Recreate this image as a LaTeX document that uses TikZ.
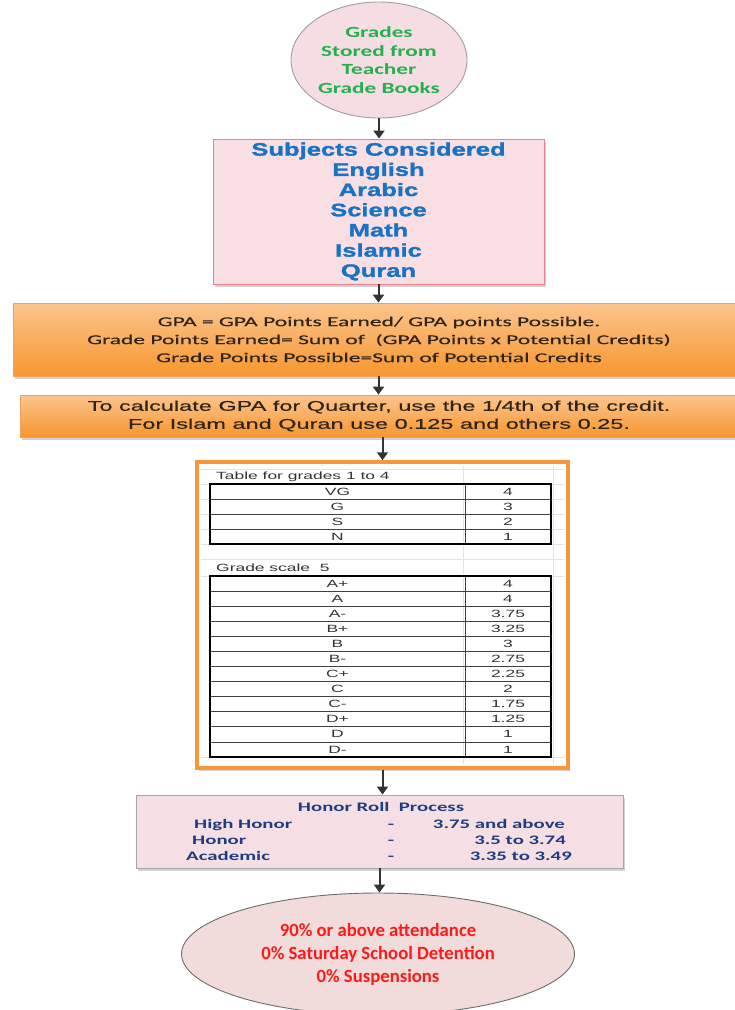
\documentclass[tikz,border=0pt]{standalone}
\usepackage{fontspec}
\usetikzlibrary{shapes.geometric,shadows,arrows.meta}
\newfontfamily\topfont[FakeStretch=1.5]{Carlito}
\newfontfamily\subjfont[FakeStretch=1.42,FakeBold=1.6]{Liberation Sans}
\newfontfamily\gpafont[FakeStretch=1.74,FakeBold=0.4]{Carlito}
\newfontfamily\quarterfont[FakeStretch=1.68,FakeBold=0.4]{Liberation Sans}
\newfontfamily\tabfont[FakeStretch=1.66]{Liberation Sans}
\newfontfamily\honorfont[FakeStretch=1.6]{Carlito}
\newfontfamily\botfont{Carlito}
\definecolor{greenT}{HTML}{22B14C}
\definecolor{blueT}{HTML}{1A73C2}
\definecolor{navyT}{HTML}{203C80}
\definecolor{redT}{HTML}{FF1A1A}
\definecolor{gpaT}{HTML}{2E2418}
\definecolor{pinkA}{HTML}{F6DCE3}
\definecolor{pinkB}{HTML}{F9DEE4}
\definecolor{pinkC}{HTML}{F5DFE4}
\definecolor{pinkD}{HTML}{F2DCDB}
\definecolor{boxred}{HTML}{E6808C}
\definecolor{orTop}{HTML}{FCC58E}
\definecolor{orBot}{HTML}{F7962F}
\definecolor{orLine}{HTML}{F2A055}
\definecolor{orFrame}{HTML}{F7963A}
\definecolor{arrowc}{HTML}{333333}
\definecolor{gridc}{HTML}{E2E2E2}
\definecolor{tabT}{HTML}{333333}
\begin{document}
\begin{tikzpicture}[x=1pt,y=-1pt,
  conn/.style={draw=arrowc, line width=2pt, -{Triangle[width=11pt,length=8pt]}},
  shad/.style={drop shadow={shadow xshift=2pt, shadow yshift=-2.5pt, opacity=0.35}},
  orbox/.style={rectangle, draw=orLine, line width=0.8pt, top color=orTop, bottom color=orBot, shad, align=center, inner sep=0pt},
  tabtxt/.style={font=\fontsize{10.5}{12}\selectfont\tabfont, text=tabT, inner sep=0pt},
  hontxt/.style={font=\fontsize{13}{15}\selectfont\honorfont\bfseries, text=navyT, inner sep=0pt, text height=9pt, text depth=2.5pt},
  rowline/.style={draw=black!75, line width=0.7pt},
  frameline/.style={draw=black, line width=1.3pt}
]
\useasboundingbox (0,0) rectangle (735,1010);
\fill[white] (0,0) rectangle (735,1010);
\begin{scope}
\clip (0,0) rectangle (735,1010);

% top ellipse
\node[ellipse, draw=gray!75, line width=0.9pt, fill=pinkA, minimum width=176pt, minimum height=116pt, inner sep=0pt,
  align=center, text=greenT, font=\fontsize{15.5}{18.5}\selectfont\topfont\bfseries] (grades) at (379,60)
  {Grades\\Stored from\\Teacher\\Grade Books};

% subjects box
\node[rectangle, draw=boxred, line width=0.9pt, fill=pinkB, shad, minimum width=331pt, minimum height=145pt, inner sep=0pt,
  align=center, text=blueT, font=\fontsize{18}{20.2}\selectfont\subjfont\bfseries] (subj) at (378.5,211.5)
  {Subjects Considered\\English\\Arabic\\Science\\Math\\Islamic\\Quran};

% GPA box
\node[orbox, minimum width=732pt, minimum height=73pt, text=gpaT, font=\fontsize{13.5}{18}\selectfont\gpafont] (gpa) at (379,339.5)
  {GPA = GPA Points Earned/ GPA points Possible.\\Grade Points Earned= Sum of~ (GPA Points x Potential Credits)\\Grade Points Possible=Sum of Potential Credits};

% quarter box
\node[orbox, minimum width=718pt, minimum height=42pt, text=gpaT, font=\fontsize{14}{18}\selectfont\quarterfont] (quarter) at (379,416)
  {To calculate GPA for Quarter, use the 1/4th of the credit.\\For Islam and Quran use 0.125 and others 0.25.};

% table frame
\node[rectangle, draw=orFrame, line width=3.5pt, fill=white, shad, minimum width=371pt, minimum height=306pt, inner sep=0pt] (tbl) at (382.5,615) {};

% faint sheet grid
\foreach \yy in {469,484,499,514,529,544,559,576,757}
  \draw[gridc, line width=0.6pt] (201,\yy) -- (564,\yy);
\draw[gridc, line width=0.6pt] (463,466) -- (463,764);
\draw[gridc, line width=0.6pt] (553,466) -- (553,764);

% table 1
\node[tabtxt, anchor=west] (t1title) at (216,477) {Table for grades 1 to 4};
\foreach \g/\v [count=\i] in {VG/4,G/3,S/2,N/1}{
  \pgfmathsetmacro{\yc}{484+15*(\i-0.5)}
  \node[tabtxt] (ta\i) at (337.5,\yc) {\g};
  \node[tabtxt] (tb\i) at (508,\yc) {\v};
}
\foreach \yy in {499,514,529} \draw[rowline] (210,\yy) -- (551,\yy);
\draw[rowline] (465,484) -- (465,544);
\draw[frameline] (210,484) rectangle (551,544);

% table 2
\node[tabtxt, anchor=west] (t2title) at (216,568) {Grade scale~~5};
\foreach \g/\v [count=\i] in {A+/4,A/4,A-/3.75,B+/3.25,B/3,B-/2.75,C+/2.25,C/2,C-/1.75,D+/1.25,D/1,D-/1}{
  \pgfmathsetmacro{\yc}{576+15.083*(\i-0.5)}
  \node[tabtxt] (tc\i) at (337.5,\yc) {\g};
  \node[tabtxt] (td\i) at (508,\yc) {\v};
}
\foreach \i in {1,...,11}{
  \pgfmathsetmacro{\yl}{576+15.083*\i}
  \draw[rowline] (210,\yl) -- (551,\yl);
}
\draw[rowline] (465,576) -- (465,757);
\draw[frameline] (210,576) rectangle (551,757);

% honor roll box
\node[rectangle, draw=gray!70, line width=0.9pt, fill=pinkC, shad, minimum width=487pt, minimum height=73pt, inner sep=0pt] (honor) at (379.5,831.5) {};
\node[hontxt] (htitle) at (381,808) {Honor Roll~~Process};
\node[hontxt, anchor=west] (h1) at (194,825) {High Honor};
\node[hontxt, anchor=west] (h2) at (192,841) {Honor};
\node[hontxt, anchor=west] (h3) at (186,857) {Academic};
\node[hontxt] (d1) at (391,825) {-};
\node[hontxt] (d2) at (391,841) {-};
\node[hontxt] (d3) at (391,857) {-};
\node[hontxt, anchor=east] (v1) at (565,825) {3.75 and above};
\node[hontxt, anchor=east] (v2) at (566,841) {3.5 to 3.74};
\node[hontxt, anchor=east] (v3) at (572,857) {3.35 to 3.49};

% bottom ellipse
\node[ellipse, draw=gray!85!black, line width=0.9pt, fill=pinkD, minimum width=393pt, minimum height=122pt, inner sep=0pt,
  align=center, text=redT, font=\fontsize{18.7}{23}\selectfont\botfont\bfseries] (crit) at (378,954)
  {90\% or above attendance\\0\% Saturday School Detention\\0\% Suspensions};

% connectors
\draw[conn] (grades.south) -- (grades.south |- subj.north);
\draw[conn] (subj.south) -- (subj.south |- gpa.north);
\draw[conn] (gpa.south -| subj.south) -- (quarter.north -| subj.south);
\draw[conn] (tbl.north |- quarter.south) -- (tbl.north);
\draw[conn] (tbl.south) -- (tbl.south |- honor.north);
\draw[conn] (honor.south) -- (honor.south |- crit.north);
\end{scope}
\end{tikzpicture}
\end{document}
